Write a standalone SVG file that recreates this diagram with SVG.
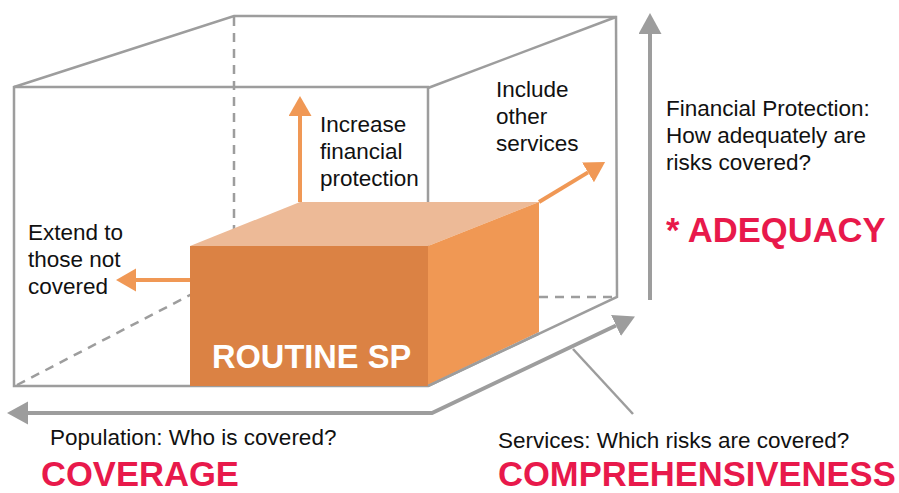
<svg xmlns="http://www.w3.org/2000/svg" width="899" height="493" viewBox="0 0 899 493">
<style>
.box{fill:none;stroke:#9d9d9d;stroke-width:2.5;stroke-linejoin:miter}
.dash{fill:none;stroke:#9d9d9d;stroke-width:2.5;stroke-dasharray:9 7}
.axis{fill:none;stroke:#9d9d9d;stroke-width:4}
.ptr{fill:none;stroke:#9d9d9d;stroke-width:2.5}
.oarr{fill:none;stroke:#f09855;stroke-width:4}
.t{font-family:"Liberation Sans",Arial,Helvetica,sans-serif;font-size:22.5px;fill:#111}
.big{font-family:"Liberation Sans",Arial,Helvetica,sans-serif;font-size:34.6px;font-weight:bold;fill:#e8194b}
.rt{font-family:"Liberation Sans",Arial,Helvetica,sans-serif;font-size:32.6px;font-weight:bold;fill:#ffffff}
</style>
<defs>
<marker id="og" markerUnits="userSpaceOnUse" markerWidth="21" markerHeight="24" refX="0" refY="11.5" orient="auto"><path d="M0,0 L20,11.5 L0,23 z" fill="#f09855"/></marker>
<marker id="gr" markerUnits="userSpaceOnUse" markerWidth="22" markerHeight="24" refX="0" refY="11.5" orient="auto-start-reverse"><path d="M0,0 L21,11.5 L0,23 z" fill="#9d9d9d"/></marker>
</defs>
<rect width="899" height="493" fill="#ffffff"/>
<g id="outer-box">
<path class="dash" d="M234,17 V250"/>
<path class="dash" d="M17,385 L192,294"/>
<path class="dash" d="M539,297 H617"/>
<path class="box" d="M14,87 L234,16 L616,17 L617,297 L428,386 L14,386 Z"/>
<path class="box" d="M14,87 H428 V386"/>
<path class="box" d="M428,88 L616,17"/>
</g>
<g id="routine-sp">
<polygon points="190,246 300,202 539,202 428,246" fill="#edba97"/>
<polygon points="428,246 539,202 539,332 428,385" fill="#f09854"/>
<rect x="190" y="246" width="238" height="140" fill="#db8244"/>
<path class="box" d="M428,386 L539,333.5"/>
<text class="rt" x="212" y="368">ROUTINE SP</text>
</g>
<g id="connectors">
<path class="oarr" d="M300,202 V116" marker-end="url(#og)"/>
<path class="oarr" d="M190,280 H136" marker-end="url(#og)"/>
<path class="oarr" d="M539,202 L588,172.4" marker-end="url(#og)"/>
<path class="axis" d="M28,413 H432 L616,325.5" marker-start="url(#gr)" marker-end="url(#gr)"/>
<path class="axis" d="M650,300 V34" marker-end="url(#gr)"/>
<path class="ptr" d="M573,349 L633,414"/>
</g>
<g id="label-increase">
<text class="t" x="320" y="132">Increase</text>
<text class="t" x="320" y="159">financial</text>
<text class="t" x="320" y="186">protection</text>
</g>
<g id="label-extend">
<text class="t" x="28" y="240">Extend to</text>
<text class="t" x="28" y="267">those not</text>
<text class="t" x="28" y="294">covered</text>
</g>
<g id="label-include">
<text class="t" x="496" y="97">Include</text>
<text class="t" x="496" y="124">other</text>
<text class="t" x="496" y="151">services</text>
</g>
<g id="label-adequacy">
<text class="t" x="666" y="116">Financial Protection:</text>
<text class="t" x="666" y="143">How adequately are</text>
<text class="t" x="666" y="170">risks covered?</text>
<text class="big" x="666" y="242">* ADEQUACY</text>
</g>
<g id="label-coverage">
<text class="t" x="50" y="445">Population: Who is covered?</text>
<text class="big" x="41" y="485.5">COVERAGE</text>
</g>
<g id="label-comprehensiveness">
<text class="t" x="498" y="448">Services: Which risks are covered?</text>
<text class="big" x="498" y="485.5">COMPREHENSIVENESS</text>
</g>
</svg>
